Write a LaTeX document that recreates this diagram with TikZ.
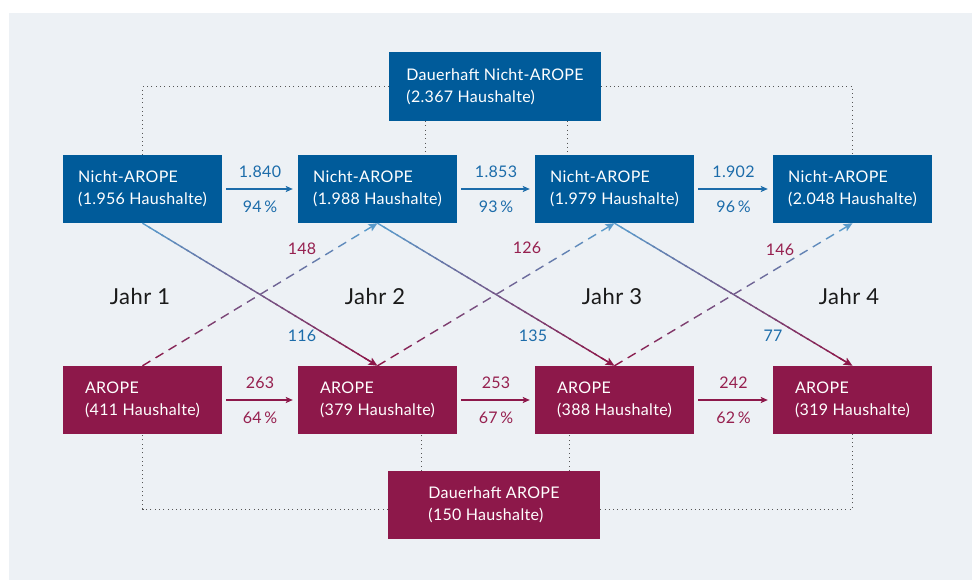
\documentclass[tikz,border=0pt]{standalone}
\usepackage{fontspec}
\setmainfont{Lato}[LetterSpace=2]
\usetikzlibrary{calc,arrows.meta}
\definecolor{bgc}{HTML}{EDF1F5}
\definecolor{boxblue}{HTML}{005B9A}
\definecolor{boxred}{HTML}{8D184A}
\definecolor{lineblue}{HTML}{5A9BCB}
\definecolor{lblblue}{HTML}{1C6CAA}
\definecolor{lblred}{HTML}{96204F}
\definecolor{dotc}{HTML}{555555}
\definecolor{jahrc}{HTML}{1A1A1A}
\newcommand\gsolid[2]{%
  \foreach \k in {0,...,35}{%
    \pgfmathsetmacro\ta{\k/36*0.97}%
    \pgfmathsetmacro\tb{(\k+1.3)/36*0.97}%
    \pgfmathtruncatemacro\pc{100*\k/35}%
    \draw[diagline, draw=boxred!\pc!lineblue] ($(#1)!\ta!(#2)$) -- ($(#1)!\tb!(#2)$);
  }%
  \draw[diagline, draw=boxred, fill=boxred, -{Stealth[length=9pt,width=8pt,inset=2pt]}] ($(#1)!0.95!(#2)$) -- (#2);
}
\newcommand\gdashed[2]{%
  \foreach \k in {0,...,16}{%
    \pgfmathsetmacro\ta{\k/18}%
    \pgfmathsetmacro\tb{(\k+0.6)/18}%
    \pgfmathtruncatemacro\pc{100*\k/17}%
    \draw[diagline, draw=lineblue!\pc!boxred] ($(#1)!\ta!(#2)$) -- ($(#1)!\tb!(#2)$);
  }%
  \draw[diagline, draw=lineblue, fill=lineblue, -{Stealth[length=9pt,width=8pt,inset=2pt]}] ($(#1)!0.9444!(#2)$) -- (#2);
}
\begin{document}
\begin{tikzpicture}[x=1pt,y=-1pt,
  basefont/.style={font=\fontsize{16}{22}\selectfont},
  boxstyle/.style={basefont, minimum width=159pt, minimum height=68pt, inner sep=0pt, align=left, text=white},
  bluebox/.style={boxstyle, fill=boxblue},
  redbox/.style={boxstyle, fill=boxred},
  widebox/.style={minimum width=212pt},
  dotline/.style={draw=dotc, line width=0.9pt, dash pattern=on 1pt off 3.3pt},
  diagline/.style={line width=1.4pt},
  harrowb/.style={draw=lblblue, line width=1.4pt, shorten <=4pt, shorten >=5pt, -{Stealth[length=7pt,width=6pt,inset=1.5pt]}},
  harrowr/.style={draw=boxred, line width=1.4pt, shorten <=4pt, shorten >=5pt, -{Stealth[length=7pt,width=6pt,inset=1.5pt]}},
  numb/.style={basefont, text=lblblue, inner sep=0pt},
  numr/.style={basefont, text=lblred, inner sep=0pt},
  jahr/.style={font=\fontsize{22}{26}\selectfont, text=jahrc, inner sep=0pt}
]
\useasboundingbox (0,0) rectangle (972,580);
\fill[white] (0,0) rectangle (972,580);
\fill[bgc] (9,13) rectangle (972,580);

% nodes
\node[bluebox, widebox, minimum height=69pt] (dn) at (495,86.5) {Dauerhaft Nicht-AROPE\\(2.367 Haushalte)};
\node[bluebox] (n1) at (142.5,189) {Nicht-AROPE\\(1.956 Haushalte)};
\node[bluebox] (n2) at (377.5,189) {Nicht-AROPE\\(1.988 Haushalte)};
\node[bluebox] (n3) at (614.5,189) {Nicht-AROPE\\(1.979 Haushalte)};
\node[bluebox] (n4) at (852.5,189) {Nicht-AROPE\\(2.048 Haushalte)};
\node[redbox] (b1) at (142.5,400) {AROPE\\(411 Haushalte)};
\node[redbox] (b2) at (377.5,400) {AROPE\\(379 Haushalte)};
\node[redbox] (b3) at (614.5,400) {AROPE\\(388 Haushalte)};
\node[redbox] (b4) at (852.5,400) {AROPE\\(319 Haushalte)};
\node[redbox, widebox] (da) at (494,505) {Dauerhaft AROPE\\(150 Haushalte)};

% dotted connectors
\coordinate (dnl) at ($(dn.south west)+(37,0)$);
\coordinate (dnr) at ($(dn.south east)+(-34,0)$);
\coordinate (dal) at ($(da.north west)+(34,0)$);
\coordinate (dar) at ($(da.north east)+(-31,0)$);
\draw[dotline] (dn.west) -| (n1.north);
\draw[dotline] (dn.east) -| (n4.north);
\draw[dotline] (dnl) -- (dnl |- n2.north);
\draw[dotline] (dnr) -- (dnr |- n3.north);
\draw[dotline] ([yshift=-4pt]da.west) -| (b1.south);
\draw[dotline] ([yshift=-4pt]da.east) -| (b4.south);
\draw[dotline] (dal) -- (dal |- b2.south);
\draw[dotline] (dar) -- (dar |- b3.south);

% horizontal arrows
\draw[harrowb] (n1.east) -- (n2.west);
\draw[harrowb] (n2.east) -- (n3.west);
\draw[harrowb] (n3.east) -- (n4.west);
\draw[harrowr] (b1.east) -- (b2.west);
\draw[harrowr] (b2.east) -- (b3.west);
\draw[harrowr] (b3.east) -- (b4.west);
\path (n1.east) -- (n2.west) node[numb, midway, yshift=17pt] {1.840} node[numb, midway, yshift=-18pt] {94\,\%};
\path (n2.east) -- (n3.west) node[numb, midway, yshift=17pt] {1.853} node[numb, midway, yshift=-18pt] {93\,\%};
\path (n3.east) -- (n4.west) node[numb, midway, yshift=17pt] {1.902} node[numb, midway, yshift=-18pt] {96\,\%};
\path (b1.east) -- (b2.west) node[numr, midway, yshift=17pt] {263} node[numr, midway, yshift=-18pt] {64\,\%};
\path (b2.east) -- (b3.west) node[numr, midway, yshift=17pt] {253} node[numr, midway, yshift=-18pt] {67\,\%};
\path (b3.east) -- (b4.west) node[numr, midway, yshift=17pt] {242} node[numr, midway, yshift=-18pt] {62\,\%};

% diagonal arrows
\gsolid{n1.south}{b2.north}
\gsolid{n2.south}{b3.north}
\gsolid{n3.south}{b4.north}
\gdashed{b1.north}{n2.south}
\gdashed{b2.north}{n3.south}
\gdashed{b3.north}{n4.south}

% diagonal labels
\node[numr] (l148) at (302,249) {148};
\node[numb] (l116) at (302,336) {116};
\node[numr] (l126) at (527,248) {126};
\node[numb] (l135) at (533,336) {135};
\node[numr] (l146) at (780,250) {146};
\node[numb] (l77) at (773,336) {77};

% year labels
\node[jahr] (j1) at (140,296) {Jahr 1};
\node[jahr] (j2) at (375,296) {Jahr 2};
\node[jahr] (j3) at (612,296) {Jahr 3};
\node[jahr] (j4) at (849,296) {Jahr 4};
\end{tikzpicture}
\end{document}
